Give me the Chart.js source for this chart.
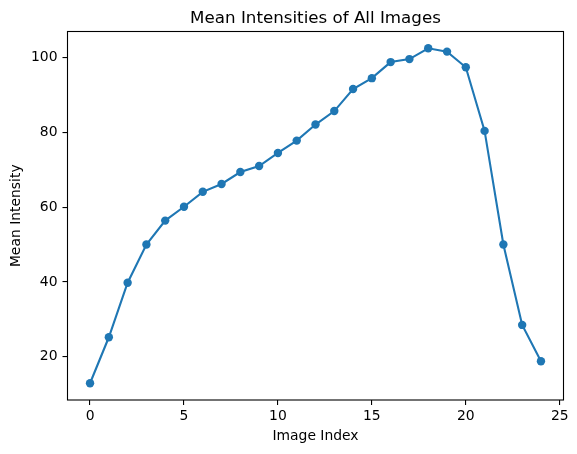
<!DOCTYPE html>
<html>
<head>
<meta charset="utf-8">
<script src="https://cdn.jsdelivr.net/npm/chart.js@4.4.1/dist/chart.umd.min.js"></script>
<style>
  html, body { margin: 0; padding: 0; background: #ffffff; }
  #wrap { width: 577px; height: 454px; }
</style>
</head>
<body>
<div id="wrap"><canvas id="c" width="577" height="454"></canvas></div>
<script>
// ---- data ----
const imageIndex = [0, 1, 2, 3, 4, 5, 6, 7, 8, 9, 10, 11, 12, 13, 14, 15, 16, 17, 18, 19, 20, 21, 22, 23, 24];
const meanIntensity = [12.9, 25.2, 39.8, 50.0, 56.4, 60.1, 64.1, 66.2, 69.4, 71.0, 74.5, 77.8, 82.1,
                       85.7, 91.6, 94.5, 98.8, 99.6, 102.5, 101.6, 97.4, 80.4, 50.0, 28.5, 18.8];
const xTickValues = [0, 5, 10, 15, 20, 25];
const yTickValues = [20, 40, 60, 80, 100];
const chartTitle = 'Mean Intensities of All Images';
const xLabel = 'Image Index';
const yLabel = 'Mean Intensity';

// matplotlib-like 5% margins
function padRange(arr) {
  const lo = Math.min(...arr), hi = Math.max(...arr), m = (hi - lo) * 0.05;
  return [lo - m, hi + m];
}
const [xMin, xMax] = padRange(imageIndex);
const [yMin, yMax] = padRange(meanIntensity);

const FONT = '"DejaVu Sans", sans-serif';
const TICK_PX = 13.9;
const TITLE_PX = 16.7;
const BLUE = '#1f77b4';

// frame on all four sides + title centred over the plot area
const frame = {
  id: 'frame',
  afterDatasetsDraw(chart) {
    const a = chart.chartArea, ctx = chart.ctx;
    ctx.save();
    ctx.strokeStyle = '#000';
    ctx.lineWidth = 1.1;
    ctx.strokeRect(a.left, a.top, a.right - a.left, a.bottom - a.top);
    ctx.fillStyle = '#000';
    ctx.font = TITLE_PX + 'px ' + FONT;
    ctx.textAlign = 'center';
    ctx.textBaseline = 'alphabetic';
    ctx.fillText(chartTitle, (a.left + a.right) / 2, a.top - 8.8);
    ctx.restore();
  }
};

new Chart(document.getElementById('c'), {
  type: 'line',
  data: {
    datasets: [{
      data: imageIndex.map((x, i) => ({ x: x, y: meanIntensity[i] })),
      borderColor: BLUE,
      backgroundColor: BLUE,
      borderWidth: 2.1,
      pointRadius: 4.2,
      pointHoverRadius: 4.2,
      pointBorderWidth: 0,
      pointBackgroundColor: BLUE,
      tension: 0,
      fill: false
    }]
  },
  options: {
    responsive: false,
    animation: false,
    devicePixelRatio: 1,
    layout: { padding: { left: 0, right: 13.5, top: 31.5, bottom: 0 } },
    plugins: {
      legend: { display: false },
      tooltip: { enabled: false },
      title: { display: false }
    },
    scales: {
      x: {
        type: 'linear',
        min: xMin,
        max: xMax,
        afterBuildTicks: s => { s.ticks = xTickValues.map(v => ({ value: v })); },
        afterFit: s => { s.height = 54; },
        grid: { display: true, drawOnChartArea: false, drawTicks: true, tickLength: 5, color: '#000', lineWidth: 1.1 },
        border: { display: false },
        ticks: { color: '#000', font: { family: FONT, size: TICK_PX }, padding: 3, maxRotation: 0, autoSkip: false },
        title: { display: true, text: xLabel, color: '#000', font: { family: FONT, size: TICK_PX }, padding: { top: 2, bottom: 9.7 } }
      },
      y: {
        type: 'linear',
        min: yMin,
        max: yMax,
        afterBuildTicks: s => { s.ticks = yTickValues.map(v => ({ value: v })); },
        afterFit: s => { s.width = 67.5; },
        grid: { display: true, drawOnChartArea: false, drawTicks: true, tickLength: 5, color: '#000', lineWidth: 1.1 },
        border: { display: false },
        ticks: { color: '#000', font: { family: FONT, size: TICK_PX }, padding: 5, autoSkip: false },
        title: { display: true, text: yLabel, color: '#000', font: { family: FONT, size: TICK_PX }, padding: { top: 8.5, bottom: 0 } }
      }
    }
  },
  plugins: [frame]
});
</script>
</body>
</html>
